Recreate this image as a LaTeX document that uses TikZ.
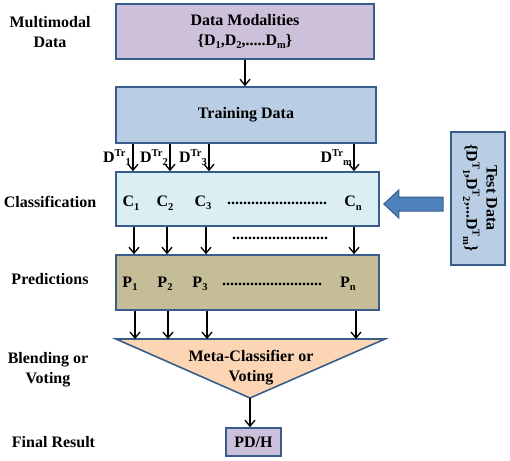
\documentclass[tikz,border=0pt]{standalone}
\usepackage{fontspec}
\setmainfont{Liberation Serif}
\usetikzlibrary{arrows.meta,calc}
\definecolor{bord}{HTML}{385D8A}
\definecolor{lav}{HTML}{CCC0DA}
\definecolor{trn}{HTML}{B9CDE5}
\definecolor{cls}{HTML}{DBEEF4}
\definecolor{prd}{HTML}{C4BD97}
\definecolor{peach}{HTML}{FCD5B5}
\definecolor{bigarr}{HTML}{4F81BD}
\newcommand\lo[1]{\raisebox{-3.5pt}{\fontsize{10.5}{10.5}\selectfont #1}}
\newcommand\hi[1]{\raisebox{6pt}{\fontsize{10.5}{10.5}\selectfont #1}}
\begin{document}
\begin{tikzpicture}[x=1pt,y=-1pt,
  font=\fontsize{16}{20}\selectfont\bfseries,
  boxstyle/.style={draw=bord, line width=1.6pt, inner sep=0pt, align=center},
  arr/.style={-{Straight Barb[length=6pt,width=10pt,line width=1.3pt]}, line width=1.4pt},
  lbl/.style={align=center, inner sep=0pt},
  dotstxt/.style={inner sep=0pt}]
\useasboundingbox (0,0) rectangle (510,460);

% left labels
\node[lbl] (l1) at (50,32) {Multimodal\\Data};
\node[lbl] (l2) at (50,202) {Classification};
\node[lbl] (l3) at (50,279) {Predictions};
\node[lbl] (l4) at (48,370) {Blending or\\Voting};
\node[lbl] (l5) at (53.5,442) {Final Result};

% boxes
\node[boxstyle, fill=lav, minimum width=258pt, minimum height=55pt] (dm) at (245,31.5)
  {Data Modalities\\\{D\lo{1},D\lo{2},.....D\lo{m}\}};
\node[boxstyle, fill=trn, minimum width=260pt, minimum height=56pt] (td) at (246,115) {Training Data};
\node[boxstyle, fill=cls, minimum width=263pt, minimum height=54pt] (cl) at (247.5,199) {};
\node[boxstyle, fill=prd, minimum width=263pt, minimum height=55pt] (pr) at (247.5,282.5) {};
\node[boxstyle, fill=lav, minimum width=55pt, minimum height=28pt] (pd) at (253.5,442) {PD/H};
\node[boxstyle, fill=trn, minimum width=54pt, minimum height=133pt] (test) at (478,198.5) {};
\node[lbl, rotate=-90] (testtxt) at (480,198) {Test Data\\\{D\hi{T}\lo{1},D\hi{T}\lo{2},...D\hi{T}\lo{m}\}};

% triangle
\coordinate (t1) at (116,339);
\coordinate (t2) at (385,339);
\coordinate (t3) at (250,398);
\draw[draw=bord, fill=peach, line width=1.6pt, line join=miter] (t1) -- (t2) -- (t3) -- cycle;
\node[lbl] (meta) at (251,368) {Meta-Classifier or\\Voting};

% classification contents
\node[dotstxt] (c1) at (131,203) {C\lo{1}};
\node[dotstxt] (c2) at (165,203) {C\lo{2}};
\node[dotstxt] (c3) at (203,203) {C\lo{3}};
\node[dotstxt] (cd) at (277,203) {.........................};
\node[dotstxt] (cn) at (353,203) {C\lo{n}};

% prediction contents
\node[dotstxt] (p1) at (130,284) {P\lo{1}};
\node[dotstxt] (p2) at (165,284) {P\lo{2}};
\node[dotstxt] (p3) at (200,284) {P\lo{3}};
\node[dotstxt] (pdots) at (272,284) {.........................};
\node[dotstxt] (pn) at (348,284) {P\lo{n}};

% middle dots
\node[dotstxt] (md) at (280,238) {........................};

% column coordinates
\coordinate (a1) at (133,0); \coordinate (a2) at (170,0);
\coordinate (a3) at (209,0); \coordinate (a4) at (354,0);
\coordinate (b1) at (134,0); \coordinate (b2) at (167,0);
\coordinate (b3) at (206,0); \coordinate (b4) at (354,0);
\coordinate (e1) at (135,0); \coordinate (e2) at (168,0);
\coordinate (e3) at (207,0); \coordinate (e4) at (356,0);

% arrows
\draw[arr] (dm.south -| 245,0) -- (td.north -| 245,0);
\foreach \k in {1,2,3,4} {
  \draw[arr] (a\k |- td.south) -- (a\k |- cl.north);
  \draw[arr] (b\k |- cl.south) -- (b\k |- pr.north);
  \draw[arr] (e\k |- pr.south) -- (e\k |- t1);
}
\draw[arr] (t3) -- (t3 |- pd.north);

% D labels
\node[lbl, anchor=east] (d1) at ($(a1|-td.south)+(-2,14)$) {D\hi{Tr}\lo{1}};
\node[lbl, anchor=east] (d2) at ($(a2|-td.south)+(-2,14)$) {D\hi{Tr}\lo{2}};
\node[lbl, anchor=east] (d3) at ($(a3|-td.south)+(-2,14)$) {D\hi{Tr}\lo{3}};
\node[lbl, anchor=east] (dmm) at ($(a4|-td.south)+(-2,14)$) {D\hi{Tr}\lo{m}};

% big blue arrow
\coordinate (tip) at ($(cl.east)+(4,5)$);
\coordinate (tail) at ($(test.west |- tip)+(-7,0)$);
\draw[draw=bord, fill=bigarr, line width=1pt]
  (tip) -- ++(15,-14) -- ++(0,7) -- ($(tail)+(0,-7)$) -- ($(tail)+(0,7)$)
  -- ($(tip)+(15,7)$) -- ($(tip)+(15,14)$) -- cycle;
\end{tikzpicture}
\end{document}
